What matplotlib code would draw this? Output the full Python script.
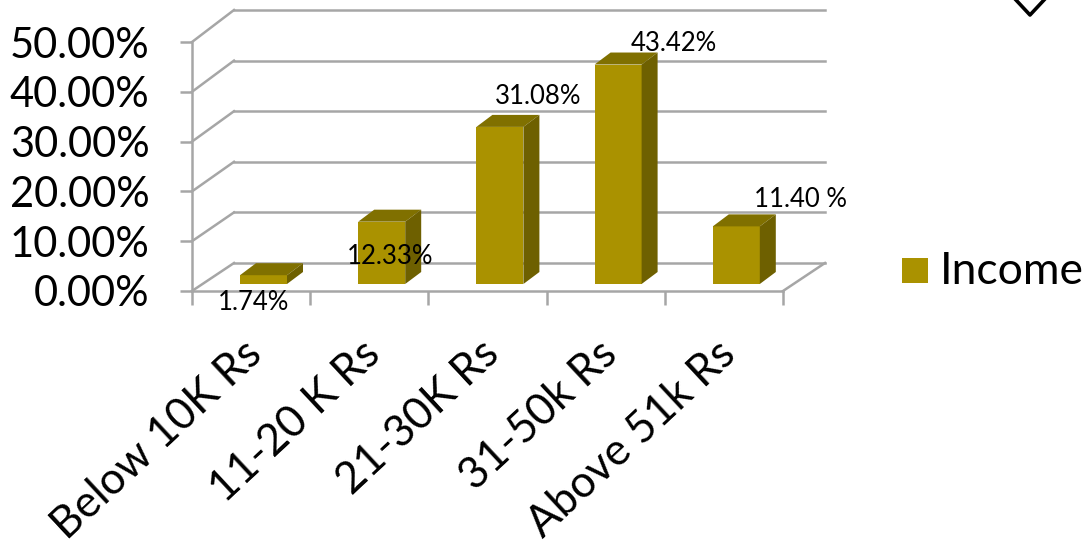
import matplotlib
matplotlib.use('Agg')
import matplotlib.pyplot as plt
from matplotlib.lines import Line2D
from matplotlib.patches import Polygon, Rectangle

plt.rcParams['font.family'] = ['Lato', 'DejaVu Sans']

categories = ['Below 10K Rs', '11-20 K Rs', '21-30K Rs', '31-50k Rs', 'Above 51k Rs']
income = [1.74, 12.33, 31.08, 43.42, 11.40]
bar_labels = ['1.74%', '12.33%', '31.08%', '43.42%', '11.40 %']
y_ticks = [0, 10, 20, 30, 40, 50]
y_labels = ['0.00%', '10.00%', '20.00%', '30.00%', '40.00%', '50.00%']
legend_label = 'Income'

# label offsets from the front top corner of each bar, in pixels
label_dx = [-10, 8, 38, 56, 64]
label_dy = [-27, -35, 30, 21, 27]

W, H = 1088, 547
GRID = '#a6a6a6'
FRONT = '#aa9200'
TOP = '#807000'
SIDE = '#6e6000'

fig = plt.figure(figsize=(W / 100, H / 100), dpi=100)
ax = fig.add_axes([192 / W, (H - 291) / H, 591 / W, 249 / H])
ax.set_xlim(0, 5)
ax.set_ylim(0, 50)
for s in ax.spines.values():
    s.set_visible(False)
ax.patch.set_visible(False)

# pixel sizes turned into data units
px_x = 5 / 591
px_y = 50 / 249
wall_dx = 42 * px_x

# walls and floor, the back wall is a bit taller than the front
for v in y_ticks:
    wall_dy = (28 + 0.08 * v) * px_y
    ax.plot([0, wall_dx], [v, v + wall_dy], color=GRID, lw=1.8, clip_on=False, zorder=1)
    ax.plot([wall_dx, 5 + wall_dx], [v + wall_dy, v + wall_dy], color=GRID, lw=1.8, clip_on=False, zorder=1)
ax.plot([0, 0], [0, 50], color=GRID, lw=1.8, clip_on=False, zorder=1)
ax.plot([0, 5], [0, 0], color=GRID, lw=1.8, clip_on=False, zorder=1)
ax.plot([5, 5 + wall_dx], [0, 28 * px_y], color=GRID, lw=1.8, clip_on=False, zorder=1)

# 3d bars
bar_w = 47 * px_x
bar_shift = 48 * px_x
base = 7 * px_y
side_x = 16 * px_x
side_y = 12 * px_y
bar_scale = 1.015
for i, v in enumerate(income):
    x0 = i + bar_shift
    x1 = x0 + bar_w
    top = base + v * bar_scale
    ax.add_patch(Rectangle((x0, base), bar_w, v * bar_scale, fc=FRONT, ec='none', clip_on=False, zorder=3))
    ax.add_patch(Polygon([(x0, top), (x1, top), (x1 + side_x, top + side_y), (x0 + side_x, top + side_y)],
                         fc=TOP, ec='none', clip_on=False, zorder=3))
    ax.add_patch(Polygon([(x1, base), (x1 + side_x, base + side_y), (x1 + side_x, top + side_y), (x1, top)],
                         fc=SIDE, ec='none', clip_on=False, zorder=3))
    ax.annotate(bar_labels[i], (x0 + bar_w / 2, top), xytext=(label_dx[i] * 0.72, label_dy[i] * 0.72),
                textcoords='offset points', ha='center', va='center', fontsize=18.5, color='black',
                annotation_clip=False, zorder=5)

# axes ticks
ax.set_yticks(y_ticks, y_labels)
ax.tick_params(axis='y', length=8.5, width=1.8, color=GRID, pad=22, labelsize=30)
ax.set_xticks(range(6), [''] * 6)
ax.tick_params(axis='x', which='major', length=10, width=1.8, color=GRID)
ax.set_xticks([i + 0.5 - 9 * px_x for i in range(5)], categories, minor=True)
ax.tick_params(axis='x', which='minor', length=0, pad=30, labelsize=31.5)
for t in ax.get_xticklabels(minor=True):
    t.set_rotation(43)
    t.set_ha('right')
    t.set_rotation_mode('anchor')

# legend
fig.add_artist(Rectangle((902 / W, (H - 283) / H), 26 / W, 25 / H, fc=FRONT, ec='none', transform=fig.transFigure))
fig.text(940 / W, (H - 271) / H, legend_label, fontsize=32, ha='left', va='center', color='black')

# cut off shape in the corner
fig.add_artist(Line2D([1016 / W, 1030 / W, 1044 / W], [1, (H - 15) / H, 1], color='black', lw=2.6,
                      transform=fig.transFigure))

fig.savefig('out.png', dpi=100)
